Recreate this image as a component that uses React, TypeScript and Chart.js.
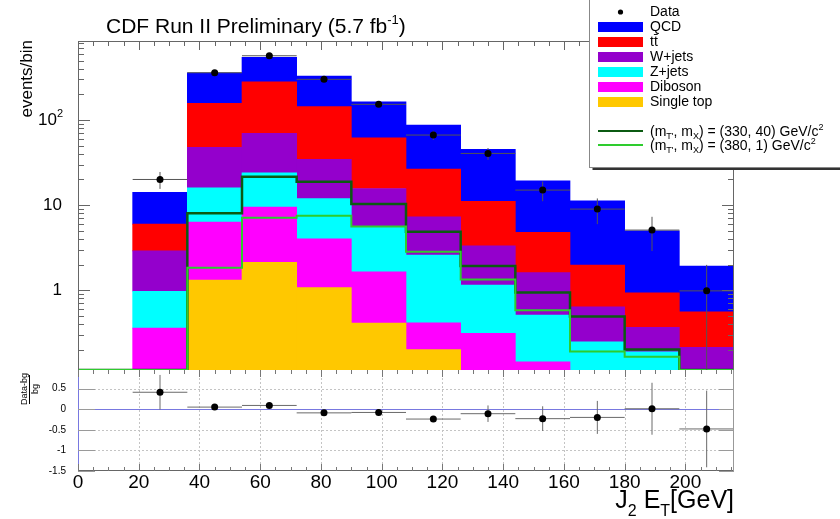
import React, { useEffect, useRef } from 'react';
import { Chart, registerables } from 'chart.js';

Chart.register(...registerables);

const FONT = "'Liberation Sans', Arial, Helvetica, sans-serif";

// ---- binning (GeV) ----
const BIN_EDGES = [0, 18, 36, 54, 72, 90, 108, 126, 144, 162, 180, 198, 216];
const BIN_CENTERS = [27, 45, 63, 81, 99, 117, 135, 153, 171, 189, 207];
const BIN_WIDTH = 18;
const BIN_HALF_WIDTH = 9;

// ---- axis ranges ----
const X_MIN = 0;
const X_MAX = 216;
const Y_MIN = 0.115;
const Y_MAX = 850;
const R_MIN = -1.5;
const R_MAX = 0.95;

// ---- stacked backgrounds, events/bin per component (bins centred at BIN_CENTERS) ----
const SINGLE_TOP = [null, 1.31, 2.12, 1.07, 0.41, 0.2, null, null, null, null, null];
const DIBOSON = [0.357, 4.99, 7.38, 2.93, 1.23, 0.213, 0.31, 0.143, null, null, null];
const Z_JETS = [0.613, 9.7, 14.5, 7.9, 3.92, 2.17, 0.84, 0.365, 0.246, 0.188, null];
const W_JETS = [1.93, 31.7, 45.7, 22.6, 10.1, 4.71, 2.17, 1.1, 0.391, 0.176, 0.212];
const TTBAR = [3.07, 109, 212, 109, 46.3, 19.2, 7.78, 3.16, 1.33, 0.566, 0.344];
const QCD = [8.13, 203, 265, 185.5, 102, 60.8, 34.1, 14.5, 9.23, 4.06, 1.36];

// ---- data ----
const DATA = [20, 360, 570, 301, 153, 66.6, 40.5, 15, 8.97, 5.08, 0.98];
const DATA_ERR = [4.5, 19, 24, 17, 12, 8, 6.4, 3.9, 3, 2.2, 1];

// ---- signals, one value per bin 0-18 ... 198-216 (values at the floor drawn on the axis) ----
const SIG_330_40 = [0.115, 0.115, 8.0, 21.5, 18.8, 10.3, 4.85, 1.92, 0.94, 0.49, 0.2, 0.115];
const SIG_380_1 = [0.115, 0.115, 1.83, 7.1, 7.5, 5.6, 2.82, 1.33, 0.58, 0.19, 0.165, 0.115];

// ---- ratio panel ----
const RATIO = [0.41, 0.05, 0.09, -0.09, -0.08, -0.24, -0.11, -0.23, -0.2, 0.01, -0.48];
const RATIO_ERR = [0.42, 0.05, 0.05, 0.06, 0.08, 0.07, 0.2, 0.3, 0.4, 0.63, 0.93];

// ---- tick labels ----
const LOG_LABELS = [1, 10, 100];
const RATIO_TICKS = [-1.5, -1, -0.5, 0, 0.5];

const STACK = [
  { label: 'Single top', values: SINGLE_TOP, color: '#ffc800' },
  { label: 'Diboson', values: DIBOSON, color: '#ff00ff' },
  { label: 'Z+jets', values: Z_JETS, color: '#00ffff' },
  { label: 'W+jets', values: W_JETS, color: '#9400cc' },
  { label: 'tt\u0304', values: TTBAR, color: '#ff0000' },
  { label: 'QCD', values: QCD, color: '#0000ff' },
];

const SIG_DARK = '#0b5a12';
const SIG_LIGHT = '#2ecc2e';
const ZERO_BLUE = '#7878e0';

type Part = { t: string; s: number; dy?: number };

function drawRich(ctx: CanvasRenderingContext2D, x: number, y: number, parts: Part[], align: 'left' | 'right' = 'left') {
  ctx.save();
  ctx.textBaseline = 'alphabetic';
  ctx.textAlign = 'left';
  let total = 0;
  for (const p of parts) {
    ctx.font = `${p.s}px ${FONT}`;
    total += ctx.measureText(p.t).width;
  }
  let cx = align === 'right' ? x - total : x;
  for (const p of parts) {
    ctx.font = `${p.s}px ${FONT}`;
    ctx.fillText(p.t, cx, y + (p.dy || 0));
    cx += ctx.measureText(p.t).width;
  }
  ctx.restore();
}

function line(ctx: CanvasRenderingContext2D, x1: number, y1: number, x2: number, y2: number) {
  ctx.beginPath();
  ctx.moveTo(x1, y1);
  ctx.lineTo(x2, y2);
  ctx.stroke();
}

function xTickValues(step: number) {
  const out: number[] = [];
  for (let v = X_MIN; v <= X_MAX + 1e-9; v += step) out.push(v);
  return out;
}

function logTickValues() {
  const out: { v: number; major: boolean }[] = [];
  for (let d = 0.1; d <= 1000; d *= 10) {
    for (let k = 1; k <= 9; k++) {
      const v = k * d;
      if (v >= Y_MIN && v <= Y_MAX) out.push({ v, major: k === 1 });
    }
  }
  return out;
}

const topPlugin = {
  id: 'topDecor',
  beforeDatasetDraw(chart: any, args: any) {
    const ds = chart.data.datasets[args.index];
    if (ds.label !== 'Data') return;
    const ctx = chart.ctx as CanvasRenderingContext2D;
    const xs = chart.scales.x;
    const ys = chart.scales.y2;
    ctx.save();
    ctx.strokeStyle = '#555';
    ctx.lineWidth = 1;
    BIN_CENTERS.forEach((c, i) => {
      const py = ys.getPixelForValue(DATA[i]);
      line(ctx, xs.getPixelForValue(c - BIN_HALF_WIDTH), py, xs.getPixelForValue(c + BIN_HALF_WIDTH), py);
      const lo = Math.max(DATA[i] - DATA_ERR[i], Y_MIN);
      const px = xs.getPixelForValue(c);
      line(ctx, px, ys.getPixelForValue(DATA[i] + DATA_ERR[i]), px, ys.getPixelForValue(lo));
    });
    ctx.restore();
  },
  afterDraw(chart: any) {
    const ctx = chart.ctx as CanvasRenderingContext2D;
    const { left, right, top, bottom } = chart.chartArea;
    const xs = chart.scales.x;
    const ys = chart.scales.y;
    ctx.save();
    // frame
    ctx.strokeStyle = '#666';
    ctx.lineWidth = 1;
    line(ctx, left + 0.5, top + 0.5, right - 0.5, top + 0.5);
    line(ctx, left + 0.5, top + 0.5, left + 0.5, bottom);
    line(ctx, right - 0.5, top + 0.5, right - 0.5, bottom);
    // inward ticks
    for (const t of logTickValues()) {
      const py = Math.round(ys.getPixelForValue(t.v)) + 0.5;
      const len = t.major ? 12 : 6;
      line(ctx, left, py, left + len, py);
      line(ctx, right, py, right - len, py);
    }
    for (const v of xTickValues(5)) {
      const px = Math.round(xs.getPixelForValue(v)) + 0.5;
      const len = v % 20 === 0 ? 9 : 5;
      line(ctx, px, top, px, top + len);
    }
    // y tick labels
    ctx.fillStyle = '#000';
    ctx.textBaseline = 'middle';
    for (const v of LOG_LABELS) {
      const py = ys.getPixelForValue(v);
      if (v === 100) {
        ctx.font = `17px ${FONT}`;
        ctx.textAlign = 'right';
        ctx.fillText('10', left - 21, py);
        ctx.font = `11px ${FONT}`;
        ctx.textAlign = 'left';
        ctx.fillText('2', left - 21, py - 6);
      } else {
        ctx.font = `17px ${FONT}`;
        ctx.textAlign = 'right';
        ctx.fillText(String(v), left - 16, py);
      }
    }
    // title
    ctx.fillStyle = '#000';
    drawRich(ctx, 106, 33, [
      { t: 'CDF Run II Preliminary (5.7 fb', s: 21 },
      { t: '-1', s: 13, dy: -9 },
      { t: ')', s: 21 },
    ]);
    // y title
    ctx.save();
    ctx.rotate(-Math.PI / 2);
    ctx.font = `17px ${FONT}`;
    ctx.textAlign = 'right';
    ctx.textBaseline = 'alphabetic';
    ctx.fillText('events/bin', -top + 1, 32);
    ctx.restore();

    // legend
    const lx = 589.5;
    ctx.fillStyle = '#fff';
    ctx.fillRect(lx, 0, 260, 168);
    ctx.strokeStyle = '#888';
    ctx.lineWidth = 1;
    ctx.strokeRect(lx, -1, 260, 168.5);
    ctx.strokeStyle = '#333';
    ctx.lineWidth = 2;
    line(ctx, lx + 3, 169, 845, 169);
    const mx0 = 598;
    const mw = 45;
    const tx = 650;
    // Data
    ctx.fillStyle = '#000';
    ctx.beginPath();
    ctx.arc(mx0 + mw / 2, 12, 2.6, 0, Math.PI * 2);
    ctx.fill();
    ctx.font = `14px ${FONT}`;
    ctx.textAlign = 'left';
    ctx.textBaseline = 'middle';
    ctx.fillText('Data', tx, 12);
    const order = [...STACK].reverse();
    order.forEach((s, i) => {
      const cy = 27 + i * 15;
      ctx.fillStyle = s.color;
      ctx.fillRect(mx0, cy - 5, mw, 10);
      ctx.fillStyle = '#000';
      ctx.fillText(s.label, tx, cy);
    });
    const sigs = [
      { color: SIG_DARK, y: 131, txt: ') = (330, 40) GeV/c' },
      { color: SIG_LIGHT, y: 145, txt: ') = (380, 1) GeV/c' },
    ];
    for (const s of sigs) {
      ctx.strokeStyle = s.color;
      ctx.lineWidth = 2;
      line(ctx, mx0, s.y, mx0 + mw, s.y);
      ctx.fillStyle = '#000';
      drawRich(ctx, tx, s.y + 5, [
        { t: '(m', s: 14 },
        { t: "T'", s: 9, dy: 3 },
        { t: ', m', s: 14 },
        { t: 'X', s: 9, dy: 3 },
        { t: s.txt, s: 14 },
        { t: '2', s: 9, dy: -6 },
      ]);
    }
    ctx.restore();
  },
};

const ratioPlugin = {
  id: 'ratioDecor',
  beforeDatasetsDraw(chart: any) {
    const ctx = chart.ctx as CanvasRenderingContext2D;
    const { left, right, top, bottom } = chart.chartArea;
    const xs = chart.scales.x;
    const ys = chart.scales.y;
    ctx.save();
    // dotted grid
    ctx.strokeStyle = '#c4c4c4';
    ctx.lineWidth = 1;
    ctx.setLineDash([2, 2]);
    for (const v of xTickValues(20)) {
      if (v === X_MIN) continue;
      const px = Math.round(xs.getPixelForValue(v)) + 0.5;
      line(ctx, px, top, px, bottom);
    }
    for (const v of RATIO_TICKS) {
      if (v === R_MIN || v === 0) continue;
      const py = Math.round(ys.getPixelForValue(v)) + 0.5;
      line(ctx, left, py, right, py);
    }
    ctx.setLineDash([]);
    // zero line
    ctx.strokeStyle = ZERO_BLUE;
    const pz = Math.round(ys.getPixelForValue(0)) + 0.5;
    line(ctx, left, pz, right, pz);
    // error bars
    ctx.strokeStyle = '#6a6a6a';
    BIN_CENTERS.forEach((c, i) => {
      const py = ys.getPixelForValue(RATIO[i]);
      line(ctx, xs.getPixelForValue(c - BIN_HALF_WIDTH), py, xs.getPixelForValue(c + BIN_HALF_WIDTH), py);
      const px = xs.getPixelForValue(c);
      line(ctx, px, ys.getPixelForValue(RATIO[i] + RATIO_ERR[i]), px, ys.getPixelForValue(RATIO[i] - RATIO_ERR[i]));
    });
    ctx.restore();
  },
  afterDraw(chart: any) {
    const ctx = chart.ctx as CanvasRenderingContext2D;
    const { left, right, top, bottom } = chart.chartArea;
    const xs = chart.scales.x;
    const ys = chart.scales.y;
    ctx.save();
    ctx.lineWidth = 1;
    // frame
    ctx.strokeStyle = ZERO_BLUE;
    line(ctx, left + 0.5, top, left + 0.5, bottom);
    ctx.strokeStyle = '#666';
    line(ctx, left, bottom - 0.5, right, bottom - 0.5);
    ctx.strokeStyle = '#999';
    line(ctx, right - 0.5, top, right - 0.5, bottom);
    // y ticks
    ctx.strokeStyle = '#9a9a9a';
    for (const v of RATIO_TICKS) {
      const py = Math.round(ys.getPixelForValue(v)) + 0.5;
      line(ctx, left, py, left + 17, py);
      line(ctx, right, py, right - 15, py);
    }
    // x ticks
    ctx.strokeStyle = '#777';
    for (const v of xTickValues(5)) {
      const px = Math.round(xs.getPixelForValue(v)) + 0.5;
      const len = v % 20 === 0 ? 7 : 4;
      line(ctx, px, bottom, px, bottom - len);
      line(ctx, px, top, px, top + len);
    }
    // y title (fraction)
    ctx.fillStyle = '#000';
    ctx.save();
    ctx.rotate(-Math.PI / 2);
    ctx.font = `9px ${FONT}`;
    ctx.textAlign = 'center';
    ctx.textBaseline = 'alphabetic';
    ctx.fillText('Data-bg', -389, 27);
    ctx.fillText('bg', -389, 38);
    ctx.restore();
    ctx.strokeStyle = '#000';
    line(ctx, 29.5, 375, 29.5, 404);
    // x title
    drawRich(ctx, right, 508, [
      { t: 'J', s: 25 },
      { t: '2', s: 16, dy: 8 },
      { t: ' E', s: 25 },
      { t: 'T', s: 16, dy: 8 },
      { t: '[GeV]', s: 25 },
    ], 'right');
    ctx.restore();
  },
};

function topConfig(): any {
  const bars = STACK.map((s) => ({
    type: 'bar',
    label: s.label,
    data: BIN_CENTERS.map((x, i) => ({ x, y: s.values[i] })),
    backgroundColor: s.color,
    borderWidth: 0,
    barPercentage: 1,
    categoryPercentage: 1,
    yAxisID: 'y',
    order: 3,
  }));
  const stepPoints = (vals: number[]) => BIN_EDGES.map((x, i) => ({ x, y: vals[Math.min(i, vals.length - 1)] }));
  return {
    type: 'bar',
    data: {
      datasets: [
        ...bars,
        {
          type: 'line',
          label: 'sig330',
          data: stepPoints(SIG_330_40),
          stepped: 'before',
          borderColor: SIG_DARK,
          borderWidth: 2.5,
          pointRadius: 0,
          fill: false,
          yAxisID: 'y2',
          order: 2,
        },
        {
          type: 'line',
          label: 'sig380',
          data: stepPoints(SIG_380_1),
          stepped: 'before',
          borderColor: SIG_LIGHT,
          borderWidth: 2,
          pointRadius: 0,
          fill: false,
          yAxisID: 'y2',
          order: 1,
        },
        {
          type: 'line',
          label: 'Data',
          data: BIN_CENTERS.map((x, i) => ({ x, y: DATA[i] })),
          showLine: false,
          pointRadius: 3.5,
          pointBackgroundColor: '#000',
          pointBorderWidth: 0,
          yAxisID: 'y2',
          order: 0,
        },
      ],
    },
    options: {
      responsive: false,
      animation: false,
      devicePixelRatio: 1,
      layout: { padding: { left: 0, top: 41, right: 106, bottom: 149 } },
      plugins: { legend: { display: false }, tooltip: { enabled: false }, title: { display: false } },
      scales: {
        x: {
          type: 'linear',
          min: X_MIN,
          max: X_MAX,
          stacked: true,
          display: false,
          offset: false,
          grid: { offset: false },
          ticks: { stepSize: BIN_WIDTH },
        },
        y: {
          type: 'logarithmic',
          min: Y_MIN,
          max: Y_MAX,
          stacked: true,
          display: true,
          grid: { display: false },
          border: { display: false },
          ticks: { display: false },
          afterFit: (s: any) => { s.width = 78; },
        },
        y2: { type: 'logarithmic', min: Y_MIN, max: Y_MAX, display: false },
      },
    },
    plugins: [topPlugin],
  };
}

function ratioConfig(): any {
  return {
    type: 'scatter',
    data: {
      datasets: [
        {
          label: 'ratio',
          data: BIN_CENTERS.map((x, i) => ({ x, y: RATIO[i] })),
          pointRadius: 3.5,
          pointBackgroundColor: '#000',
          pointBorderWidth: 0,
          showLine: false,
        },
      ],
    },
    options: {
      responsive: false,
      animation: false,
      devicePixelRatio: 1,
      layout: { padding: { left: 0, top: 370, right: 106, bottom: 0 } },
      plugins: { legend: { display: false }, tooltip: { enabled: false } },
      scales: {
        x: {
          type: 'linear',
          min: X_MIN,
          max: X_MAX,
          grid: { display: false },
          border: { display: false },
          ticks: {
            stepSize: 20,
            includeBounds: false,
            autoSkip: false,
            maxRotation: 0,
            padding: -8,
            color: '#000',
            font: { family: FONT, size: 19 },
          },
          afterFit: (s: any) => { s.height = 48; },
        },
        y: {
          type: 'linear',
          min: R_MIN,
          max: R_MAX,
          grid: { display: false },
          border: { display: false },
          ticks: {
            stepSize: 0.5,
            includeBounds: false,
            autoSkip: false,
            padding: 4,
            color: '#000',
            font: { family: FONT, size: 10 },
            callback: (v: any) => String(v),
          },
          afterFit: (s: any) => { s.width = 78; },
        },
      },
    },
    plugins: [ratioPlugin],
  };
}

export default function App() {
  const topRef = useRef<HTMLCanvasElement>(null);
  const botRef = useRef<HTMLCanvasElement>(null);
  useEffect(() => {
    const c1 = new Chart(topRef.current as HTMLCanvasElement, topConfig());
    const c2 = new Chart(botRef.current as HTMLCanvasElement, ratioConfig());
    return () => {
      c1.destroy();
      c2.destroy();
    };
  }, []);
  return (
    <div style={{ position: 'fixed', left: 0, top: 0, width: 840, height: 519, background: '#fff', overflow: 'hidden' }}>
      <canvas ref={topRef} width={840} height={519} style={{ position: 'absolute', left: 0, top: 0 }} />
      <canvas ref={botRef} width={840} height={519} style={{ position: 'absolute', left: 0, top: 0 }} />
    </div>
  );
}
